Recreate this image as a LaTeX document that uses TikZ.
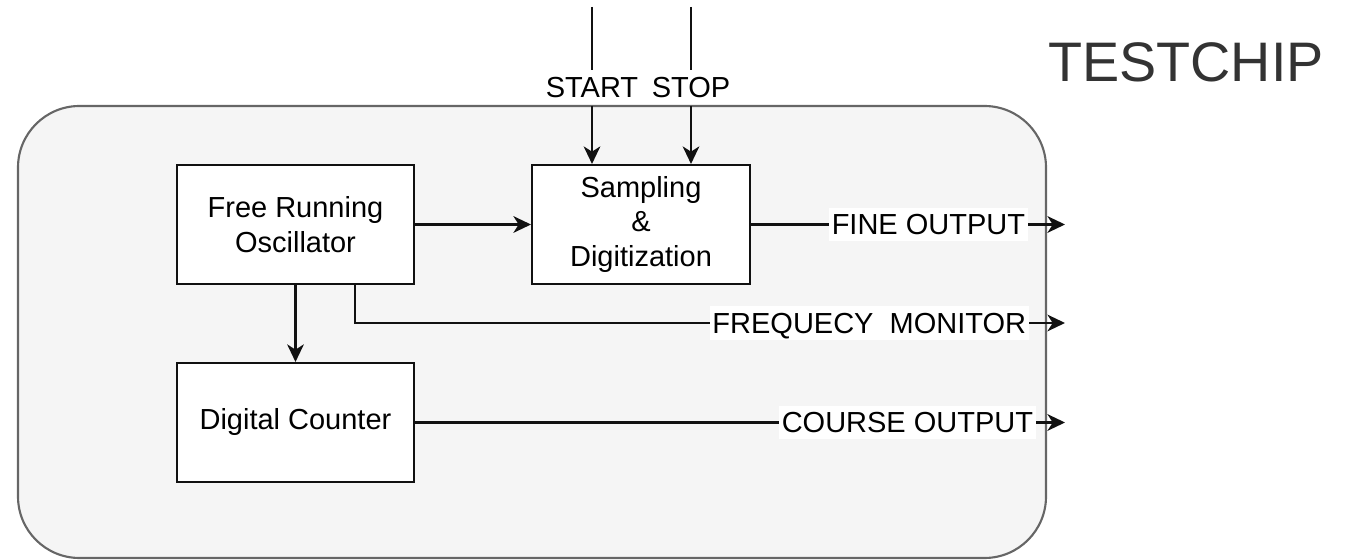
\documentclass[tikz,border=0pt]{standalone}
\usepackage{fontspec}
\setmainfont{Liberation Sans}
\usetikzlibrary{arrows.meta}
\definecolor{chipfill}{HTML}{F5F5F5}
\definecolor{chipline}{HTML}{666666}
\definecolor{titlegray}{HTML}{333333}
\definecolor{edgeblack}{HTML}{111111}
\begin{document}
\begin{tikzpicture}[x=0.02cm,y=-0.02cm,
  every node/.style={font=\fontsize{16.5}{19.8}\selectfont},
  block/.style={draw=edgeblack, line width=1.2pt, fill=white, align=center, inner sep=0pt},
  conn/.style={draw=edgeblack, line width=1.2pt, -{Stealth[length=10pt,width=9.5pt,inset=3pt]}},
  plainconn/.style={draw=edgeblack, line width=1.2pt},
  lbl/.style={fill=white, inner xsep=1.5pt, inner ysep=3.6pt, text height=11.8pt, text depth=0pt},
  toplbl/.style={fill=white, inner sep=0pt, minimum height=19pt, text height=11.8pt, text depth=0pt}
]
\useasboundingbox (0,0) rectangle (1356,560);
% chip outline
\draw[fill=chipfill, draw=chipline, line width=1.2pt, rounded corners=35pt] (18,106) rectangle (1046,558);
\node[text=titlegray, font=\fontsize{31.7}{36}\selectfont, inner sep=0pt] (title) at (1186,62) {TESTCHIP};

% blocks
\node[block, minimum width=4.74cm, minimum height=2.38cm] (osc) at (295.5,224.5) {Free Running\\Oscillator};
\node[block, minimum width=4.36cm, minimum height=2.38cm] (samp) at (641,224.5) {Sampling\\\&\\Digitization};
\node[block, minimum width=4.74cm, minimum height=2.38cm] (cnt) at (295.5,422.5) {Digital Counter};

% inputs
\coordinate (st) at (592,7);
\coordinate (sp) at (691,7);
\draw[plainconn] (st) -- (592,70);
\draw[plainconn] (sp) -- (691,70);
\draw[conn] (592,106) -- (st |- samp.north);
\draw[conn] (691,106) -- (sp |- samp.north);
\node[toplbl] (stl) at (592,87) {START};
\node[toplbl] (spl) at (691,87) {STOP};

% internal connections
\draw[conn] (osc.east) -- (samp.west);
\draw[conn] (osc.south) -- (cnt.north);

% outputs
\coordinate (fineend) at (1065,224.5);
\coordinate (monend) at (1065,323);
\coordinate (cntend) at (1065,422.5);
\coordinate (monstart) at (355,284);
\draw[conn] (samp.east) -- (fineend);
\draw[conn] (monstart) |- (monend);
\draw[conn] (cnt.east) -- (cntend);
\node[lbl, anchor=east] (finel) at (1028,224.5) {FINE OUTPUT};
\node[lbl, anchor=east] (monl) at (1029,323) {FREQUECY\ \ MONITOR};
\node[lbl, anchor=east] (cntl) at (1036,422.5) {COURSE OUTPUT};
\end{tikzpicture}
\end{document}
